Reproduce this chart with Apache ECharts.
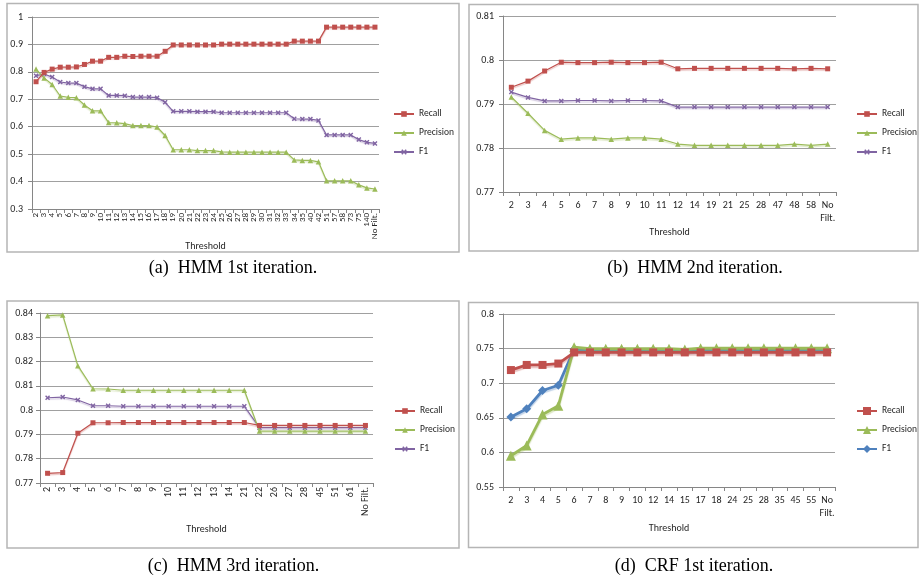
<!DOCTYPE html>
<html><head><meta charset="utf-8">
<script src="https://cdn.jsdelivr.net/npm/echarts@6/dist/echarts.min.js"></script>
<style>html,body{margin:0;padding:0;background:#fff}#c{width:920px;height:578px}</style>
</head><body><div id="c"></div>
<script>
// ---------- data ----------
const catsA = ['2','3','4','5','6','7','8','9','10','11','12','13','14','15','16','17','18','19','20','21','22','23','24','25','26','27','28','29','30','31','32','33','34','35','40','42','51','57','58','73','75','140','No Filt.'];
const recallA = [0.764,0.798,0.810,0.817,0.817,0.818,0.827,0.839,0.839,0.853,0.853,0.857,0.856,0.857,0.857,0.857,0.875,
  0.898,0.898,0.898,0.898,0.898,0.898,0.901,0.901,0.901,0.901,0.901,0.901,0.901,0.901,0.901,
  0.912,0.912,0.912,0.912,0.963,0.963,0.963,0.963,0.963,0.963,0.963];
const precisionA = [0.810,0.778,0.754,0.712,0.707,0.706,0.679,0.658,0.658,0.615,0.614,0.611,0.604,0.604,0.604,0.599,0.568,
  0.516,0.516,0.516,0.513,0.513,0.513,0.508,0.507,0.507,0.507,0.507,0.507,0.507,0.507,0.507,
  0.479,0.477,0.477,0.472,0.403,0.403,0.403,0.403,0.388,0.377,0.373];
const f1A = [0.786,0.792,0.781,0.763,0.759,0.759,0.746,0.738,0.738,0.714,0.714,0.713,0.708,0.708,0.708,0.706,0.689,
  0.656,0.656,0.656,0.655,0.655,0.655,0.651,0.651,0.651,0.651,0.651,0.651,0.651,0.651,0.651,
  0.629,0.628,0.628,0.623,0.570,0.570,0.570,0.570,0.553,0.543,0.539];

const catsB = ['2','3','4','5','6','7','8','9','10','11','12','14','19','21','25','28','47','48','58','No\nFilt.'];
const recallB = [0.7938,0.7952,0.7975,0.7995,0.7994,0.7994,0.7995,0.7994,0.7994,0.7995,0.7980,0.7981,0.7981,0.7981,0.7981,0.7981,0.7981,0.7980,0.7981,0.7980];
const precisionB = [0.7916,0.7879,0.7840,0.7820,0.7823,0.7823,0.7820,0.7823,0.7823,0.7820,0.7809,0.7806,0.7806,0.7806,0.7806,0.7806,0.7806,0.7809,0.7806,0.7809];
const f1B = [0.7927,0.7915,0.7907,0.7907,0.7908,0.7908,0.7907,0.7908,0.7908,0.7907,0.7893,0.7893,0.7893,0.7893,0.7893,0.7893,0.7893,0.7893,0.7893,0.7893];

const catsC = ['2','3','4','5','6','7','8','9','10','11','12','13','14','21','22','26','27','28','45','51','61','No Filt.'];
const recallC = [0.7740,0.7743,0.7905,0.7948,0.7948,0.7949,0.7949,0.7949,0.7949,0.7949,0.7949,0.7949,0.7949,0.7949,0.7937,0.7937,0.7937,0.7937,0.7937,0.7937,0.7937,0.7937];
const precisionC = [0.8389,0.8392,0.8183,0.8088,0.8087,0.8082,0.8082,0.8082,0.8082,0.8082,0.8082,0.8082,0.8082,0.8082,0.7914,0.7914,0.7914,0.7914,0.7914,0.7914,0.7914,0.7914];
const f1C = [0.8051,0.8054,0.8042,0.8018,0.8018,0.8016,0.8016,0.8016,0.8016,0.8016,0.8016,0.8016,0.8016,0.8016,0.7928,0.7928,0.7928,0.7928,0.7928,0.7928,0.7928,0.7928];

const catsD = ['2','3','4','5','6','7','8','9','10','12','14','15','17','18','24','25','28','35','45','55','No\nFilt.'];
const recallD = [0.719,0.7264,0.7264,0.7284,0.7445,0.7445,0.7445,0.7445,0.7445,0.7445,0.7445,0.7445,0.7445,0.7445,0.7445,0.7445,0.7445,0.7445,0.7445,0.7445,0.7445];
const precisionD = [0.5952,0.610,0.6548,0.6673,0.752,0.7498,0.7498,0.7498,0.7498,0.7498,0.7498,0.7488,0.7505,0.7505,0.7505,0.7505,0.7505,0.7505,0.7505,0.7505,0.7505];
const f1D = [0.651,0.663,0.6894,0.6971,0.749,0.7476,0.7476,0.7476,0.7476,0.7476,0.7476,0.746,0.7476,0.7476,0.7476,0.7476,0.7476,0.7476,0.7476,0.7476,0.7476];

const captions = ['(a)  HMM 1st iteration.','(b)  HMM 2nd iteration.','(c)  HMM 3rd iteration.','(d)  CRF 1st iteration.'];
const metricNames = ['Recall','Precision','F1'];

// ---------- styling ----------
const FONT = 'Carlito, Lato, "Liberation Sans", sans-serif';
const TXT = '#262626';
const AX = '#868686';
const RED = '#C0504D', GREEN = '#9BBB59', PURPLE = '#8064A2', BLUE = '#4F81BD';
const XSYM = 'path://M0,2L2,0L5,3L8,0L10,2L7,5L10,8L8,10L5,7L2,10L0,8L3,5Z';

const chart = echarts.init(document.getElementById('c'));

const grids = [
  {left:32, top:17, width:347, height:192},
  {left:503, top:16, width:333, height:176},
  {left:40, top:313, width:333, height:170},
  {left:503, top:314, width:332, height:173}
];
const yCfg = [
  {min:0.3, max:1, interval:0.1},
  {min:0.77, max:0.81, interval:0.01},
  {min:0.77, max:0.84, interval:0.01},
  {min:0.55, max:0.8, interval:0.05}
];
const catsAll = [catsA, catsB, catsC, catsD];
const rotated = [true, false, true, false];
const nameGaps = [32, 35, 41, 36];

const xAxes = catsAll.map((cats, i) => ({
  type:'category', gridIndex:i, data:cats, boundaryGap:true,
  axisLine:{lineStyle:{color:AX, width:1}},
  axisTick:{show:true, length:4, lineStyle:{color:AX}},
  axisLabel:{interval:0, rotate: rotated[i] ? 90 : 0, fontSize: i===0 ? 9 : 10,
    margin: rotated[i] ? 4 : 7, color:TXT, fontFamily:FONT, lineHeight:13},
  name:'Threshold', nameLocation:'middle', nameGap:nameGaps[i], nameMoveOverlap:false,
  nameTextStyle:{fontSize:10, color:TXT, fontFamily:FONT}
}));
const yAxes = yCfg.map((c, i) => ({
  type:'value', gridIndex:i, min:c.min, max:c.max, interval:c.interval,
  axisLine:{show:true, lineStyle:{color:AX, width:1}},
  axisTick:{show:true, length:4, lineStyle:{color:AX}},
  splitLine:{show:true, lineStyle:{color:'#a0a0a0', width:1}},
  axisLabel:{fontSize:10, margin: i===2 ? 7 : 9, color:TXT, fontFamily:FONT,
    formatter: v => String(Math.round(v*1000)/1000)}
}));

const panelKeys = ['a','b','c','d'];
const panelData = [
  [recallA, precisionA, f1A],
  [recallB, precisionB, f1B],
  [recallC, precisionC, f1C],
  [recallD, precisionD, f1D]
];
function shade(hex, a){const r=parseInt(hex.slice(1,3),16),g=parseInt(hex.slice(3,5),16),b=parseInt(hex.slice(5,7),16);return `rgba(${r},${g},${b},${a})`;}

const series = [];
panelData.forEach((arrs, i) => {
  const crf = i === 3;
  const colors = [RED, GREEN, crf ? BLUE : PURPLE];
  const syms = ['rect','triangle', crf ? 'diamond' : XSYM];
  const sizes = crf ? [8, 10, 9] : [5, 5.5, 5];
  arrs.forEach((d, k) => {
    series.push({
      type:'line', name: metricNames[k] + ' (' + panelKeys[i] + ')',
      xAxisIndex:i, yAxisIndex:i, data:d,
      symbol:syms[k], symbolSize:sizes[k], showSymbol:true,
      lineStyle:{color:colors[k], width: crf ? 2.8 : 1.2,
        shadowColor: shade(colors[k], 0.35), shadowOffsetY: crf ? 2 : 1.5, shadowBlur:1},
      itemStyle:{color:colors[k]},
      z: 10 - k,
      animation:false
    });
  });
});

const legendPos = [
  {left:388, top:103}, {left:851, top:103}, {left:389, top:400}, {left:851, top:400}
];
const legends = legendPos.map((p, i) => ({
  orient:'vertical', left:p.left, top:p.top,
  itemWidth:20, itemHeight: i===3 ? 10 : 7, itemGap:7,
  selectedMode:false,
  data: metricNames.map(n => n + ' (' + panelKeys[i] + ')'),
  formatter: name => name.replace(/ \(.\)$/, ''),
  textStyle:{fontSize:9.5, color:TXT, fontFamily:FONT, lineHeight:12}
}));

const boxes = [
  {x:7, y:3.5, w:452, h:248.5},
  {x:469, y:4.5, w:449, h:246.5},
  {x:7, y:301, w:452, h:247},
  {x:468.5, y:302.5, w:449.5, h:245}
];
const capPos = [[233, 268], [695, 268], [233.5, 566], [694, 566]];
const graphics = [];
boxes.forEach(b => graphics.push({type:'rect', shape:{x:b.x, y:b.y, width:b.w, height:b.h},
  style:{fill:null, stroke:'#b5b5b5', lineWidth:1.5}, silent:true, z:0}));
captions.forEach((t, i) => graphics.push({type:'text', x:capPos[i][0], y:capPos[i][1],
  style:{text:t, fill:'#000', font:'18px "Liberation Serif", "Times New Roman", serif', textAlign:'center', textVerticalAlign:'middle'}, silent:true}));

chart.setOption({
  animation:false,
  backgroundColor:'#fff',
  grid:grids, xAxis:xAxes, yAxis:yAxes, series:series, legend:legends, graphic:graphics
});
</script>
</body></html>
